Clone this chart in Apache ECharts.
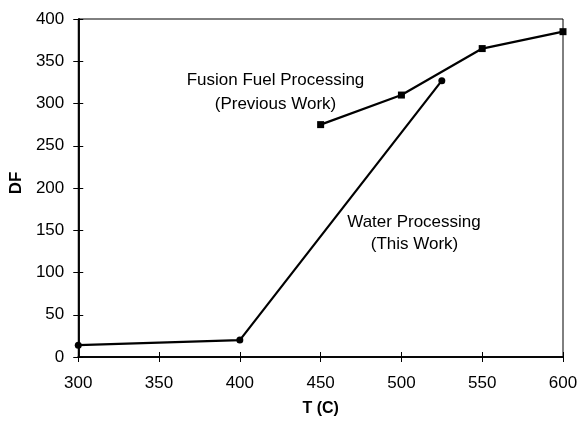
<!DOCTYPE html>
<html>
<head>
<meta charset="utf-8">
<script src="https://cdn.jsdelivr.net/npm/echarts@6/dist/echarts.min.js"></script>
<style>html,body{margin:0;padding:0;background:#fff}#c{width:582px;height:422px}</style>
</head>
<body>
<div id="c"></div>
<script>
const xTicks = [300, 350, 400, 450, 500, 550, 600];
const yTicks = [0, 50, 100, 150, 200, 250, 300, 350, 400];
const waterT = [300, 400, 525];
const waterDF = [14, 20, 327];
const fusionT = [450, 500, 550, 600];
const fusionDF = [275, 310, 365, 385];

const chart = echarts.init(document.getElementById('c'));
const font = 'Liberation Sans, Arial, sans-serif';
const baseX = {type: 'value', min: xTicks[0], max: xTicks[xTicks.length - 1], interval: 50, gridIndex: 0, position: 'bottom'};
const baseY = {type: 'value', min: yTicks[0], max: yTicks[yTicks.length - 1], interval: 50, gridIndex: 0, position: 'left'};
chart.setOption({
  animation: false,
  grid: {left: 77, right: 19, top: 19, bottom: 58, show: true, borderColor: '#000', borderWidth: 1},
  xAxis: [
    Object.assign({}, baseX, {
      name: 'T (C)', nameLocation: 'middle', nameGap: 44,
      nameTextStyle: {fontFamily: font, fontSize: 16, fontWeight: 'bold', color: '#000'},
      axisLine: {show: true, lineStyle: {color: '#000', width: 1.5}},
      axisTick: {show: true, inside: false, length: 5, lineStyle: {color: '#000'}},
      axisLabel: {fontFamily: font, fontSize: 17, color: '#000', margin: 18},
      splitLine: {show: false}
    }),
    Object.assign({}, baseX, {
      axisLine: {show: true, lineStyle: {color: '#000', width: 1.5}},
      axisTick: {show: true, inside: true, length: 5, lineStyle: {color: '#000'}},
      axisLabel: {show: false}, splitLine: {show: false}
    })
  ],
  yAxis: [
    Object.assign({}, baseY, {
      name: 'DF', nameLocation: 'middle', nameGap: 52, nameRotate: 90,
      nameTextStyle: {fontFamily: font, fontSize: 17, fontWeight: 'bold', color: '#000', padding: [0, 0, 0, 10]},
      axisLine: {show: true, lineStyle: {color: '#000', width: 1.5}},
      axisTick: {show: true, inside: false, length: 5, lineStyle: {color: '#000'}},
      axisLabel: {fontFamily: font, fontSize: 17, color: '#000', margin: 14},
      splitLine: {show: false}
    }),
    Object.assign({}, baseY, {
      axisLine: {show: true, lineStyle: {color: '#000', width: 1.5}},
      axisTick: {show: true, inside: true, length: 5, lineStyle: {color: '#000'}},
      axisLabel: {show: false}, splitLine: {show: false}
    })
  ],
  series: [
    {
      type: 'line', xAxisIndex: 0, yAxisIndex: 0,
      data: waterT.map((t, i) => [t, waterDF[i]]),
      symbol: 'circle', symbolSize: 7,
      lineStyle: {color: '#000', width: 2.2},
      itemStyle: {color: '#000'}
    },
    {
      type: 'line', xAxisIndex: 0, yAxisIndex: 0,
      data: fusionT.map((t, i) => [t, fusionDF[i]]),
      symbol: 'rect', symbolSize: 7,
      lineStyle: {color: '#000', width: 2.2},
      itemStyle: {color: '#000'}
    }
  ],
  graphic: [
    {type: 'text', x: 275.5, y: 80, style: {text: 'Fusion Fuel Processing', font: '17px ' + font, fill: '#000', align: 'center', verticalAlign: 'middle'}},
    {type: 'text', x: 275.5, y: 104, style: {text: '(Previous Work)', font: '17px ' + font, fill: '#000', align: 'center', verticalAlign: 'middle'}},
    {type: 'text', x: 414, y: 222, style: {text: 'Water Processing', font: '17px ' + font, fill: '#000', align: 'center', verticalAlign: 'middle'}},
    {type: 'text', x: 414.5, y: 244, style: {text: '(This Work)', font: '17px ' + font, fill: '#000', align: 'center', verticalAlign: 'middle'}}
  ]
});
</script>
</body>
</html>
